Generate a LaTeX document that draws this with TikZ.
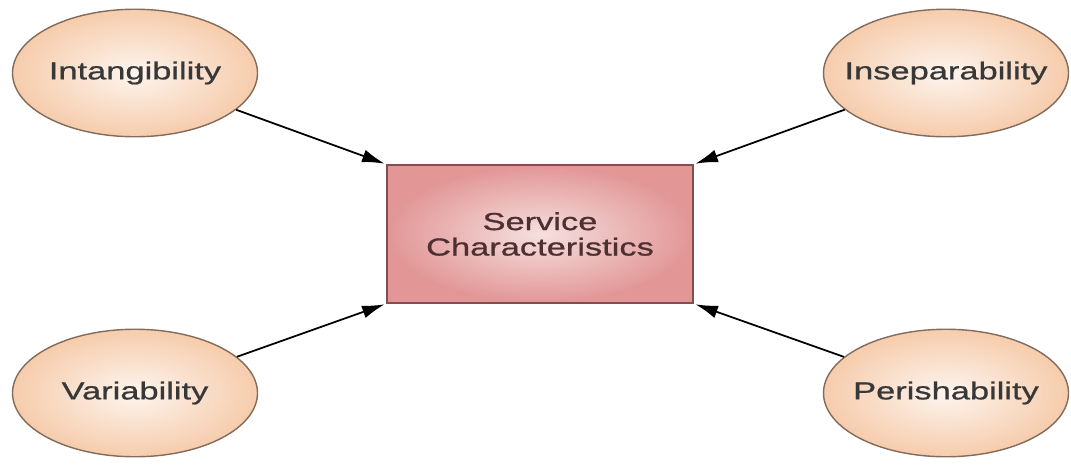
\documentclass[tikz,border=0pt]{standalone}
\usepackage{fontspec}
\setmainfont{Liberation Sans}[FakeStretch=1.4,FakeBold=0.8]
\usetikzlibrary{shapes.geometric,arrows.meta}

\definecolor{peach}{RGB}{246,204,172}
\definecolor{peachrim}{RGB}{130,108,92}
\definecolor{rose}{RGB}{226,150,150}
\definecolor{roserim}{RGB}{128,80,80}

% keep the ellipse size free of the label width
\newcommand{\tlabel}[1]{\makebox[2.5cm][c]{#1}}

\begin{document}
\begin{tikzpicture}[
    trait/.style={
      % The shape:
      ellipse,minimum width=4.9cm,minimum height=2.55cm,inner sep=0pt,
      % The rest
      thick,draw=peachrim,
      inner color=white!80!peach,outer color=peach,
      text=black!78,font=\fontsize{14}{16}\selectfont},
    core/.style={
      % The shape:
      rectangle,minimum width=6.12cm,minimum height=2.76cm,
      % The rest
      thick,draw=roserim,
      inner color=white!70!rose,outer color=rose,
      text=roserim!60!black,align=center,
      font=\fontsize{14}{14.5}\selectfont},
    feed/.style={line width=1pt,-{Latex[length=4.5mm,width=2.6mm]},shorten >=1pt}]
  \useasboundingbox (0,0) rectangle (21.42,-9.32);
  \node [core] (svc) at (10.80,-4.68) {Service\\Characteristics}; % centre
  \node [trait] (intang) at (2.70,-1.46) {\tlabel{Intangibility}};
  \node [trait] (insep) at (18.92,-1.46) {\tlabel{Inseparability}};
  \node [trait] (var) at (2.70,-7.86) {\tlabel{Variability}};
  \node [trait] (perish) at (18.92,-7.86) {\tlabel{Perishability}};
  \draw [feed] (intang) -- (svc.north west);
  \draw [feed] (insep) -- (svc.north east);
  \draw [feed] (var) -- (svc.south west);
  \draw [feed] (perish) -- (svc.south east);
\end{tikzpicture}
\end{document}
